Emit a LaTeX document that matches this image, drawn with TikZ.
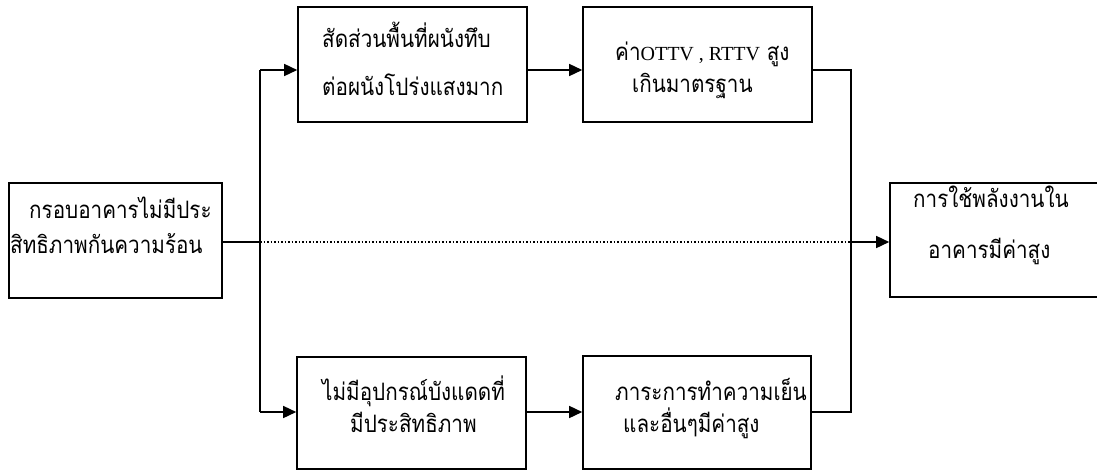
\documentclass[tikz,border=0pt]{standalone}
\usepackage{fontspec}
\newfontfamily\thai[Script=Thai,FakeStretch=0.86]{Loma}
\newfontfamily\lat{Liberation Serif}
\usetikzlibrary{arrows.meta}
\tikzset{
  box/.style={draw, line width=1.6pt, inner sep=0pt},
  conn/.style={line width=1.5pt},
  arr/.style={conn, -{Triangle[length=13pt,width=12pt]}},
  dots/.style={line width=1.5pt, dotted},
  txt/.style={anchor=base west, inner sep=0pt, font=\thai\fontsize{24}{28}\selectfont}
}
\begin{document}
\begin{tikzpicture}[x=1pt,y=-1pt]
\useasboundingbox (0,0) rectangle (1097,471);
% boxes
\node[box, minimum width=213pt, minimum height=115pt] (L)  at (115.5,240.5) {};
\node[box, minimum width=229pt, minimum height=115pt] (T1) at (412.5,64.5) {};
\node[box, minimum width=229pt, minimum height=115pt] (T2) at (697.5,64.5) {};
\node[box, minimum width=212pt, minimum height=114pt] (R)  at (996,240) {};
\node[box, minimum width=229pt, minimum height=112pt] (B1) at (411.5,413) {};
\node[box, minimum width=228pt, minimum height=113pt] (B2) at (697,412.5) {};
% texts
\node[txt] (L1)  at (29,218)  {กรอบอาคารไม่มีประ};
\node[txt] (L2)  at (10,253)  {สิทธิภาพกันความร้อน};
\node[txt] (T1a) at (322,47)  {สัดส่วนพื้นที่ผนังทึบ};
\node[txt] (T1b) at (322,95)  {ต่อผนังโปร่งแสงมาก};
\node[txt] (T2a) at (615,60)  {ค่า{\lat\fontsize{20}{24}\selectfont OTTV , RTTV} สูง};
\node[txt] (T2b) at (632,92)  {เกินมาตรฐาน};
\node[txt] (R1)  at (913,207) {การใช้พลังงานใน};
\node[txt] (R2)  at (928,258) {อาคารมีค่าสูง};
\node[txt] (B1a) at (322,400) {ไม่มีอุปกรณ์บังแดดที่};
\node[txt] (B1b) at (350,432) {มีประสิทธิภาพ};
\node[txt] (B2a) at (615,400) {ภาระการทำความเย็น};
\node[txt] (B2b) at (623,432) {และอื่นๆมีค่าสูง};
% junction points
\coordinate (jt) at (260,70);
\coordinate (jm) at (260,242);
\coordinate (jb) at (260,412);
\coordinate (kt) at (851,70);
\coordinate (km) at (851,242);
\coordinate (kb) at (851,412);
% connectors
\draw[conn] (L.east |- jm) -- (jm);
\draw[conn] (jt) -- (jb);
\draw[arr] (jt) -- (jt -| T1.west);
\draw[arr] (jb) -- (jb -| B1.west);
\draw[arr] (T1.east |- jt) -- (T2.west |- jt);
\draw[arr] (B1.east |- jb) -- (B2.west |- jb);
\draw[conn] (T2.east |- kt) -- (kt) -- (kb) -- (B2.east |- kb);
\draw[dots] (jm) -- (km);
\draw[arr] (km) -- (km -| R.west);
\end{tikzpicture}
\end{document}
